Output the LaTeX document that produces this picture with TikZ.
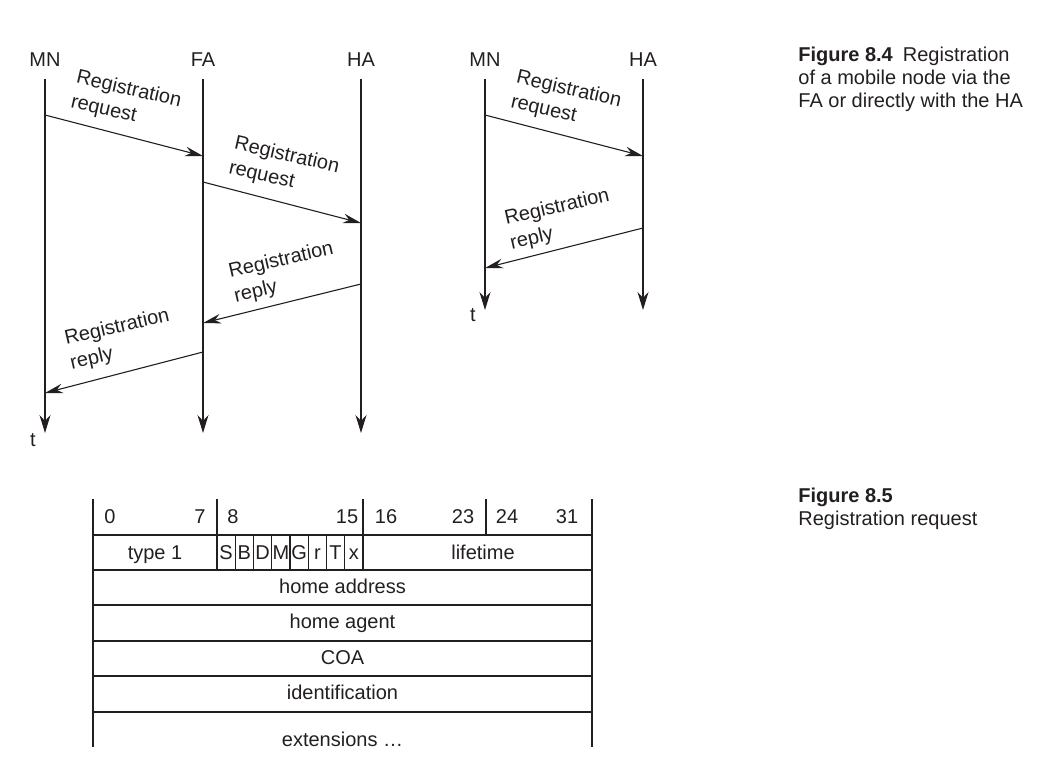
\documentclass[tikz,border=0pt]{standalone}
\usepackage{fontspec}
\setmainfont{Liberation Sans}
\usepackage{tikz}
\usetikzlibrary{arrows.meta,positioning}
\definecolor{ink}{HTML}{231F20}

\begin{document}
\begin{tikzpicture}[x=0.5pt, y=-0.5pt,
  every node/.style={text=ink},
  agent/.style={font=\fontsize{10}{12}\selectfont, anchor=base, inner xsep=0pt, inner ysep=6.5pt},
  life/.style={draw=ink, line width=0.7pt, -{Stealth[length=9pt, width=5.5pt]}},
  msg/.style={draw=ink, line width=0.55pt, -{Stealth[length=9pt, width=4.8pt]}},
  lbl/.style={font=\fontsize{10}{12.5}\selectfont, align=left, inner sep=0pt},
  field/.style={font=\fontsize{10}{12}\selectfont, anchor=base, inner sep=0pt},
  cell/.style={draw=ink, line width=0.65pt},
  caption/.style={font=\fontsize{10}{11.5}\selectfont, align=left, anchor=north west, inner sep=0pt}
]
  \useasboundingbox (0,0) rectangle (1039,773);

  % registration via the FA
  \node[agent] (mnL) at (45,66) {MN};
  \node[agent] (faL) at (203,66) {FA};
  \node[agent] (haL) at (361,66) {HA};
  \coordinate (mnLend) at (45,433);
  \coordinate (faLend) at (203,433);
  \coordinate (haLend) at (361,433);
  \draw[life] (mnL) -- (mnLend);
  \draw[life] (faL) -- (faLend);
  \draw[life] (haL) -- (haLend);
  \node[agent, inner ysep=0pt] (tL) at (33,446) {t};

  \coordinate (req1a) at (45,115);  \coordinate (req1b) at (203,156);
  \coordinate (req2a) at (203,182); \coordinate (req2b) at (361,223);
  \coordinate (rep1a) at (361,284); \coordinate (rep1b) at (203,323);
  \coordinate (rep2a) at (203,352); \coordinate (rep2b) at (45,393);
  \draw[msg] (req1a) -- (req1b);
  \draw[msg] (req2a) -- (req2b);
  \draw[msg] (rep1a) -- (rep1b);
  \draw[msg] (rep2a) -- (rep2b);
  \node[lbl, rotate=-13] (req1) at (126,102) {Registration\\request};
  \node[lbl, rotate=-13] (req2) at (284,168) {Registration\\request};
  \node[lbl, rotate=13] (rep1) at (284,273) {Registration\\reply};
  \node[lbl, rotate=13] (rep2) at (120,340) {Registration\\reply};

  % registration directly with the HA
  \node[agent] (mnR) at (485,66) {MN};
  \node[agent] (haR) at (643,66) {HA};
  \coordinate (mnRend) at (485,310);
  \coordinate (haRend) at (643,310);
  \draw[life] (mnR) -- (mnRend);
  \draw[life] (haR) -- (haRend);
  \node[agent, inner ysep=0pt] (tR) at (473,321) {t};

  \coordinate (req3a) at (485,115); \coordinate (req3b) at (643,156);
  \coordinate (rep3a) at (643,228); \coordinate (rep3b) at (485,268);
  \draw[msg] (req3a) -- (req3b);
  \draw[msg] (rep3a) -- (rep3b);
  \node[lbl, rotate=-13] (req3) at (566,102) {Registration\\request};
  \node[lbl, rotate=13] (rep3) at (560,220) {Registration\\reply};

  \node[caption] (cap84) at (798,47)
    {\textbf{Figure 8.4}\enspace Registration\\of a mobile node via the\\FA or directly with the HA};

  % registration request format
  \draw[cell] (93,499) -- (93,747);
  \draw[cell] (592,499) -- (592,747);
  \draw[cell] (217,499) -- (217,570);
  \draw[cell] (363,499) -- (363,570);
  \draw[cell] (486,499) -- (486,535);
  \draw[cell] (93,535) -- (592,535);
  \draw[cell] (93,570) -- (592,570);
  \draw[cell] (93,605) -- (592,605);
  \draw[cell] (93,641) -- (592,641);
  \draw[cell] (93,676) -- (592,676);
  \draw[cell] (93,712) -- (592,712);
  \draw[cell] (235.25,535) -- (235.25,570);
  \draw[cell] (253.5,535) -- (253.5,570);
  \draw[cell] (271.75,535) -- (271.75,570);
  \draw[cell] (290,535) -- (290,570);
  \draw[cell] (308.25,535) -- (308.25,570);
  \draw[cell] (326.5,535) -- (326.5,570);
  \draw[cell] (344.75,535) -- (344.75,570);

  \node[field] (b0) at (110,523) {0};
  \node[field] (b7) at (200,523) {7};
  \node[field] (b8) at (233,523) {8};
  \node[field] (b15) at (347,523) {15};
  \node[field] (b16) at (386,523) {16};
  \node[field] (b23) at (463,523) {23};
  \node[field] (b24) at (507,523) {24};
  \node[field] (b31) at (567,523) {31};

  \node[field] (type) at (155,559) {type 1};
  \node[field] (fS) at (226.1,559) {S};
  \node[field] (fB) at (244.4,559) {B};
  \node[field] (fD) at (262.6,559) {D};
  \node[field] (fM) at (280.9,559) {M};
  \node[field] (fG) at (299.1,559) {G};
  \node[field] (fr) at (317.4,559) {r};
  \node[field] (fT) at (335.6,559) {T};
  \node[field] (fx) at (353.9,559) {x};
  \node[field] (life) at (483,559) {lifetime};

  \node[field] (home) at (342.5,593) {home address};
  \node[field] (agent) at (342.5,628) {home agent};
  \node[field] (coa) at (342.5,664) {COA};
  \node[field] (ident) at (342.5,699) {identification};
  \node[field] (ext) at (342.5,746) {extensions \ldots};

  \node[caption] (cap85) at (798,488) {\textbf{Figure 8.5}\\Registration request};
\end{tikzpicture}
\end{document}
